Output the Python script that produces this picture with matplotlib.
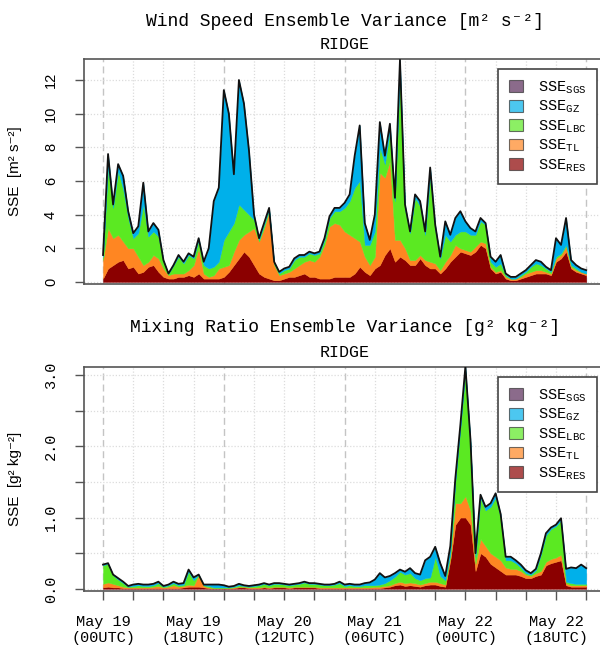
import matplotlib
matplotlib.use('Agg')
import matplotlib.pyplot as plt
import numpy as np
from matplotlib.patches import Patch

plt.rcParams['mathtext.fontset'] = 'custom'
plt.rcParams['mathtext.rm'] = 'Liberation Mono'
plt.rcParams['mathtext.it'] = 'Liberation Mono'
plt.rcParams['mathtext.bf'] = 'Liberation Mono:bold'

MONO = ['Liberation Mono', 'DejaVu Sans Mono']
SANS = ['Liberation Sans', 'DejaVu Sans']

# hours since May 19 00UTC, hourly output
hours = np.arange(97)

# wind speed variance, top of each stacked layer [m2 s-2]
ws_res = [0.2, 0.8, 1.0, 1.2, 1.3, 0.8, 0.9, 0.5, 0.6, 0.9,
          1.0, 0.6, 0.3, 0.2, 0.2, 0.3, 0.3, 0.4, 0.3, 0.5,
          0.2, 0.2, 0.2, 0.2, 0.3, 0.6, 1.0, 1.4, 1.8, 1.5,
          1.0, 0.5, 0.3, 0.2, 0.1, 0.1, 0.2, 0.3, 0.3, 0.4,
          0.5, 0.3, 0.3, 0.2, 0.2, 0.2, 0.3, 0.3, 0.3, 0.3,
          0.5, 0.9, 0.6, 0.4, 0.8, 1.0, 1.6, 2.0, 1.2, 1.5,
          1.3, 1.0, 1.0, 1.4, 1.0, 0.8, 0.8, 0.5, 0.8, 1.2,
          1.5, 1.8, 1.7, 1.6, 1.8, 2.2, 2.0, 0.8, 0.5, 0.6,
          0.2, 0.1, 0.1, 0.2, 0.3, 0.4, 0.5, 0.5, 0.5, 0.4,
          1.2, 1.4, 1.8, 0.8, 0.6, 0.5, 0.4]
ws_tl = [1.3, 3.2, 2.6, 2.8, 2.4, 2.0, 2.0, 1.5, 1.0, 1.2,
         1.6, 1.4, 0.8, 0.4, 0.5, 0.5, 0.5, 0.7, 1.0, 2.0,
         0.5, 0.3, 0.4, 0.8, 0.9, 1.0, 1.8, 2.5, 2.8, 3.0,
         3.2, 2.4, 3.2, 4.2, 1.0, 0.4, 0.5, 0.6, 0.8, 1.0,
         1.2, 1.3, 1.2, 1.5, 2.2, 3.3, 3.5, 3.4, 3.0, 2.8,
         2.6, 2.4, 1.5, 1.0, 1.5, 6.5, 6.2, 7.2, 2.5, 2.5,
         2.0, 1.3, 1.3, 1.6, 1.3, 1.2, 1.1, 0.7, 1.2, 1.6,
         2.2, 2.0, 1.9, 1.8, 2.1, 2.4, 2.3, 0.9, 0.6, 0.7,
         0.3, 0.2, 0.2, 0.3, 0.5, 0.6, 0.7, 0.7, 0.6, 0.5,
         1.4, 1.6, 2.1, 0.9, 0.7, 0.6, 0.5]
ws_lbc = [1.5, 6.8, 4.4, 6.6, 5.5, 3.8, 2.6, 2.9, 4.6, 2.7,
          3.0, 2.7, 1.2, 0.5, 1.0, 1.5, 1.1, 1.6, 1.4, 2.5,
          1.0, 0.8, 0.9, 1.2, 2.5, 3.0, 3.5, 4.6, 4.3, 4.0,
          3.7, 2.5, 3.4, 4.3, 1.1, 0.5, 0.7, 0.8, 1.3, 1.5,
          1.5, 1.7, 1.6, 1.7, 2.5, 3.8, 4.2, 4.2, 4.4, 4.8,
          5.6, 6.0, 2.2, 2.2, 3.0, 8.0, 7.0, 9.0, 4.8, 12.4,
          4.3, 2.9, 5.0, 4.5, 2.8, 6.3, 3.1, 1.4, 2.8, 2.4,
          2.8, 3.0, 3.0, 2.8, 2.8, 3.6, 3.4, 1.2, 0.9, 1.1,
          0.4, 0.2, 0.2, 0.4, 0.6, 0.9, 1.1, 1.0, 0.8, 0.6,
          1.5, 1.7, 2.2, 1.0, 0.8, 0.6, 0.5]
ws_total = [1.6, 7.6, 4.6, 7.0, 6.3, 4.2, 2.9, 3.3, 5.9, 3.0,
            3.5, 3.1, 1.3, 0.5, 1.0, 1.6, 1.2, 1.7, 1.5, 2.6,
            1.2, 2.0, 4.8, 5.6, 11.4, 10.0, 6.4, 12.0, 10.6, 7.8,
            4.0, 2.6, 3.5, 4.4, 1.2, 0.6, 0.8, 0.9, 1.4, 1.6,
            1.6, 1.8, 1.7, 1.8, 2.6, 3.9, 4.4, 4.4, 4.7, 5.2,
            7.5, 9.3, 3.5, 2.5, 4.0, 9.5, 7.5, 9.4, 5.0, 13.2,
            4.6, 3.0, 5.2, 4.8, 3.0, 6.8, 3.4, 1.5, 3.6, 2.8,
            3.8, 4.2, 3.6, 3.2, 3.0, 3.8, 3.5, 1.5, 1.2, 1.6,
            0.5, 0.3, 0.3, 0.5, 0.7, 1.0, 1.3, 1.2, 0.9, 0.7,
            2.6, 2.2, 3.8, 1.3, 1.0, 0.8, 0.7]

# mixing ratio variance, top of each stacked layer [g2 kg-2]
mr_res = [0.02, 0.03, 0.02, 0.02, 0.01, 0.01, 0.01, 0.01, 0.01, 0.01,
          0.01, 0.01, 0.01, 0.01, 0.01, 0.01, 0.02, 0.03, 0.03, 0.03,
          0.02, 0.01, 0.01, 0.01, 0.01, 0.01, 0.01, 0.02, 0.02, 0.01,
          0.01, 0.01, 0.02, 0.01, 0.02, 0.02, 0.02, 0.01, 0.02, 0.02,
          0.02, 0.02, 0.02, 0.01, 0.01, 0.01, 0.01, 0.01, 0.01, 0.01,
          0.01, 0.01, 0.01, 0.01, 0.01, 0.01, 0.02, 0.03, 0.05, 0.06,
          0.04, 0.05, 0.04, 0.03, 0.05, 0.06, 0.06, 0.04, 0.03, 0.40,
          0.90, 1.00, 1.00, 0.90, 0.25, 0.50, 0.45, 0.35, 0.30, 0.25,
          0.20, 0.20, 0.20, 0.18, 0.15, 0.15, 0.18, 0.20, 0.33, 0.36,
          0.38, 0.40, 0.05, 0.03, 0.03, 0.03, 0.03]
mr_tl = [0.07, 0.09, 0.07, 0.05, 0.03, 0.02, 0.02, 0.02, 0.02, 0.02,
         0.03, 0.04, 0.02, 0.03, 0.05, 0.03, 0.04, 0.06, 0.05, 0.19,
         0.04, 0.02, 0.01, 0.01, 0.01, 0.01, 0.02, 0.03, 0.03, 0.02,
         0.02, 0.02, 0.03, 0.02, 0.03, 0.03, 0.03, 0.02, 0.03, 0.03,
         0.03, 0.03, 0.03, 0.02, 0.02, 0.02, 0.02, 0.02, 0.02, 0.02,
         0.02, 0.02, 0.02, 0.02, 0.03, 0.03, 0.04, 0.05, 0.08, 0.10,
         0.08, 0.09, 0.08, 0.06, 0.08, 0.10, 0.10, 0.08, 0.06, 0.45,
         1.20, 1.20, 1.30, 1.10, 0.35, 0.70, 0.60, 0.50, 0.45, 0.40,
         0.30, 0.28, 0.28, 0.25, 0.20, 0.18, 0.22, 0.25, 0.38, 0.42,
         0.44, 0.48, 0.08, 0.05, 0.05, 0.05, 0.05]
mr_lbc = [0.33, 0.35, 0.19, 0.13, 0.08, 0.03, 0.04, 0.05, 0.04, 0.04,
          0.05, 0.08, 0.03, 0.05, 0.08, 0.05, 0.06, 0.24, 0.12, 0.20,
          0.05, 0.04, 0.02, 0.02, 0.02, 0.02, 0.03, 0.05, 0.04, 0.03,
          0.04, 0.05, 0.07, 0.05, 0.07, 0.07, 0.06, 0.05, 0.06, 0.07,
          0.09, 0.07, 0.07, 0.06, 0.05, 0.05, 0.06, 0.08, 0.04, 0.05,
          0.04, 0.04, 0.05, 0.05, 0.05, 0.06, 0.08, 0.12, 0.17, 0.24,
          0.20, 0.22, 0.15, 0.12, 0.15, 0.16, 0.45, 0.18, 0.12, 0.50,
          1.50, 2.25, 3.05, 2.05, 0.45, 1.27, 1.10, 1.15, 1.28, 1.00,
          0.40, 0.40, 0.36, 0.30, 0.22, 0.20, 0.26, 0.48, 0.75, 0.84,
          0.88, 0.96, 0.10, 0.08, 0.07, 0.07, 0.07]
mr_total = [0.34, 0.36, 0.20, 0.15, 0.10, 0.04, 0.06, 0.07, 0.06, 0.06,
            0.07, 0.10, 0.04, 0.06, 0.10, 0.07, 0.08, 0.27, 0.16, 0.20,
            0.06, 0.06, 0.06, 0.06, 0.05, 0.03, 0.04, 0.07, 0.05, 0.04,
            0.05, 0.06, 0.08, 0.06, 0.08, 0.08, 0.07, 0.06, 0.07, 0.08,
            0.10, 0.08, 0.08, 0.07, 0.06, 0.06, 0.07, 0.10, 0.06, 0.07,
            0.06, 0.06, 0.08, 0.09, 0.13, 0.22, 0.16, 0.18, 0.22, 0.27,
            0.24, 0.29, 0.22, 0.20, 0.40, 0.45, 0.59, 0.36, 0.18, 0.60,
            1.55, 2.30, 3.12, 2.10, 0.50, 1.32, 1.15, 1.20, 1.34, 1.05,
            0.45, 0.45, 0.40, 0.34, 0.26, 0.22, 0.28, 0.50, 0.78, 0.86,
            0.90, 0.99, 0.28, 0.30, 0.29, 0.34, 0.29]

tick_hours = np.arange(0, 97, 6)
label_hours = [0, 18, 36, 54, 72, 90]
label_text = ['May 19\n(00UTC)', 'May 19\n(18UTC)', 'May 20\n(12UTC)',
              'May 21\n(06UTC)', 'May 22\n(00UTC)', 'May 22\n(18UTC)']

c_sgs = '#5a2d5a'
c_gz = '#00b0ea'
c_lbc = '#5be922'
c_tl = '#ff8622'
c_res = '#8b0000'
frame_col = '#555555'


def draw_panel(ax, res, tl, lbc, total, ylim, yticks):
    # background grid: dotted every 6 h, dashed every day
    for h in tick_hours:
        if h % 24 == 0:
            ax.axvline(h, color='#c4c4c4', lw=1.0, ls=(0, (5, 3)), zorder=0)
        else:
            ax.axvline(h, color='#dcdcdc', lw=0.9, ls=(0, (1, 1.5)), zorder=0)
    for y in yticks:
        ax.axhline(y, color='#dcdcdc', lw=0.9, ls=(0, (1, 1.5)), zorder=0)

    res, tl, lbc, total = map(np.asarray, (res, tl, lbc, total))
    layers = [(np.zeros_like(res), res, c_res), (res, tl, c_tl),
              (tl, lbc, c_lbc), (lbc, total, c_gz)]
    for lo, hi, col in layers:
        ax.fill_between(hours, lo, hi, color=col, lw=0.3, edgecolor=col, zorder=2)
    ax.plot(hours, total, color='#111111', lw=1.3, zorder=3)

    ax.set_xlim(-3.84, 99.84)
    ax.set_ylim(*ylim)
    for s in ax.spines.values():
        s.set_color(frame_col)
        s.set_linewidth(1.2)

    handles = [Patch(facecolor=c, edgecolor='#333333', alpha=0.7, lw=0.8)
               for c in (c_sgs, c_gz, c_lbc, c_tl, c_res)]
    labels = [r'$\mathrm{SSE}_{\mathrm{%s}}$' % s for s in ('SGS', 'GZ', 'LBC', 'TL', 'RES')]
    leg = ax.legend(handles, labels, loc='upper right', bbox_to_anchor=(0.984, 0.956),
                    borderaxespad=0, prop={'family': MONO, 'size': 11},
                    handlelength=0.9, handleheight=0.8, handletextpad=1.0,
                    labelspacing=0.2, borderpad=0.7, fancybox=False,
                    framealpha=1, edgecolor='#444444')
    leg.get_frame().set_linewidth(1.2)
    leg.set_zorder(5)


fig = plt.figure(figsize=(6.0, 6.47), dpi=100)
ax1 = fig.add_axes([0.1395, 0.5611, 0.8697, 0.3478])
ax2 = fig.add_axes([0.1395, 0.0866, 0.8697, 0.3462])

# wind speed panel
draw_panel(ax1, ws_res, ws_tl, ws_lbc, ws_total, (-0.12, 13.25), np.arange(0, 13, 2))
ax1.set_xticks([])
ax1.set_yticks(np.arange(0, 13, 2))
ax1.set_yticklabels([str(v) for v in range(0, 13, 2)], family=SANS, fontsize=10.5,
                    rotation=90, va='center')
ax1.tick_params(axis='y', length=6.5, width=1.0, color=frame_col, pad=12)
ax1.set_ylabel('SSE  [m² s⁻²]', family=SANS, fontsize=11)
ax1.yaxis.set_label_coords(-0.118, 0.5)
ax1.text(0.5, 1.0 + 37 / 225, 'Wind Speed Ensemble Variance [m² s⁻²]', transform=ax1.transAxes,
         ha='center', va='center', family=MONO, fontsize=13)
ax1.text(0.5, 1.0 + 14 / 225, 'RIDGE', transform=ax1.transAxes,
         ha='center', va='center', family=MONO, fontsize=12)

# mixing ratio panel
mr_grid = np.arange(0, 3.01, 0.5)
draw_panel(ax2, mr_res, mr_tl, mr_lbc, mr_total, (-0.03, 3.112), mr_grid)
ax2.set_yticks(mr_grid)
ax2.set_yticklabels(['0.0', '', '1.0', '', '2.0', '', '3.0'], family=MONO, fontsize=11,
                    rotation=90, va='center')
ax2.tick_params(axis='y', length=6.5, width=1.0, color=frame_col, pad=12)
ax2.set_xticks(tick_hours)
ax2.set_xticklabels([label_text[label_hours.index(h)] if h in label_hours else ''
                     for h in tick_hours], family=MONO, fontsize=11)
ax2.tick_params(axis='x', length=6.5, width=1.0, color=frame_col, pad=11)
ax2.set_ylabel('SSE  [g² kg⁻²]', family=SANS, fontsize=11)
ax2.yaxis.set_label_coords(-0.118, 0.5)
ax2.text(0.5, 1.0 + 39 / 224, 'Mixing Ratio Ensemble Variance [g² kg⁻²]', transform=ax2.transAxes,
         ha='center', va='center', family=MONO, fontsize=13)
ax2.text(0.5, 1.0 + 14 / 224, 'RIDGE', transform=ax2.transAxes,
         ha='center', va='center', family=MONO, fontsize=12)

fig.savefig('out.png', dpi=100)
